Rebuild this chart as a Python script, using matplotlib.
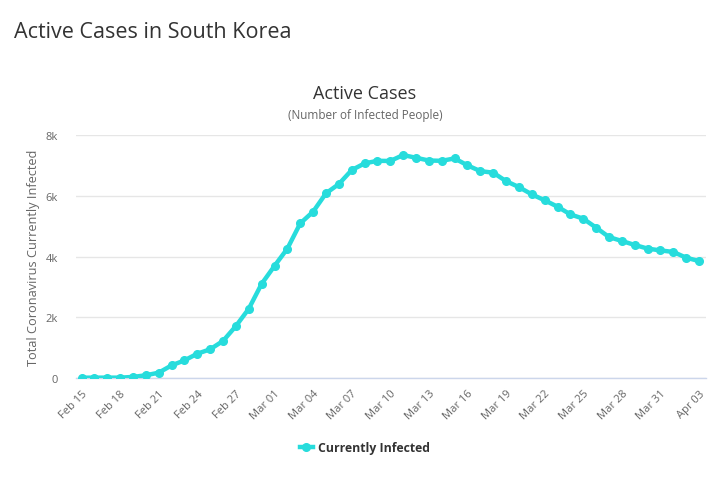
import matplotlib
matplotlib.use("Agg")
import matplotlib.pyplot as plt
from matplotlib.lines import Line2D

dates = (["Feb %02d" % d for d in range(15, 30)] +
         ["Mar %02d" % d for d in range(1, 32)] +
         ["Apr %02d" % d for d in range(1, 4)])
active = [10, 12, 12, 12, 35, 90, 175, 415, 580, 800, 945, 1220, 1710, 2280, 3100,
          3690, 4260, 5090, 5475, 6080, 6385, 6845, 7065, 7150, 7145,
          7340, 7250, 7160, 7150, 7230, 7000, 6810, 6760, 6480, 6285, 6045, 5850,
          5640, 5385, 5245, 4950, 4640, 4510, 4380, 4260, 4200,
          4150, 3960, 3850]
yticks = [0, 2000, 4000, 6000, 8000]
ytick_labels = ["0", "2k", "4k", "6k", "8k"]

plt.rcParams['font.family'] = ['Open Sans', 'DejaVu Sans']
color = '#27DCDC'

fig = plt.figure(figsize=(7.22, 4.85), dpi=100)
ax = fig.add_axes([76/722, 1-379/485, 630/722, 243/485])

x = list(range(len(dates)))
ax.plot(x, active, color=color, lw=3.2, marker='o', ms=5.5, solid_capstyle='round', zorder=3)

ax.set_ylim(0, 8000)
ax.set_xlim(-0.43, len(dates) - 1 + 0.54)
ax.set_yticks(yticks)
ax.set_yticklabels(ytick_labels)
ax.set_xticks(x[::3])
ax.set_xticklabels(dates[::3], rotation=45, ha='right', va='top', rotation_mode='anchor')
ax.tick_params(axis='x', length=0, pad=7, labelsize=8, labelcolor='#666666')
ax.tick_params(axis='y', length=0, pad=13, labelsize=8, labelcolor='#666666')
ax.grid(axis='y', color='#e6e6e6', lw=1)
ax.set_axisbelow(True)
for s in ['top', 'right', 'left']:
    ax.spines[s].set_visible(False)
ax.spines['bottom'].set_color('#ccd6eb')
ax.spines['bottom'].set_linewidth(1)

ax.set_ylabel("Total Coronavirus Currently Infected", fontsize=9.2, color='#666666', labelpad=4)

fig.text(14/722, 1-32/485, "Active Cases in South Korea", fontsize=15.5, color='#333333', va='center', ha='left')
fig.text(365/722, 1-94/485, "Active Cases", fontsize=13, color='#333333', va='center', ha='center')
fig.text(365/722, 1-116/485, "(Number of Infected People)", fontsize=8.5, color='#666666', va='center', ha='center')

handle = Line2D([0], [0], color=color, lw=3.2, marker='o', ms=5.5)
leg = fig.legend([handle], ["Currently Infected"], loc='center', bbox_to_anchor=(365/722, 1-449/485),
                 frameon=False, handlelength=1.1, handletextpad=0.45,
                 prop={'weight': 'bold', 'size': 8.8})
for t in leg.get_texts():
    t.set_color('#333333')

fig.savefig("out.png", dpi=100)
